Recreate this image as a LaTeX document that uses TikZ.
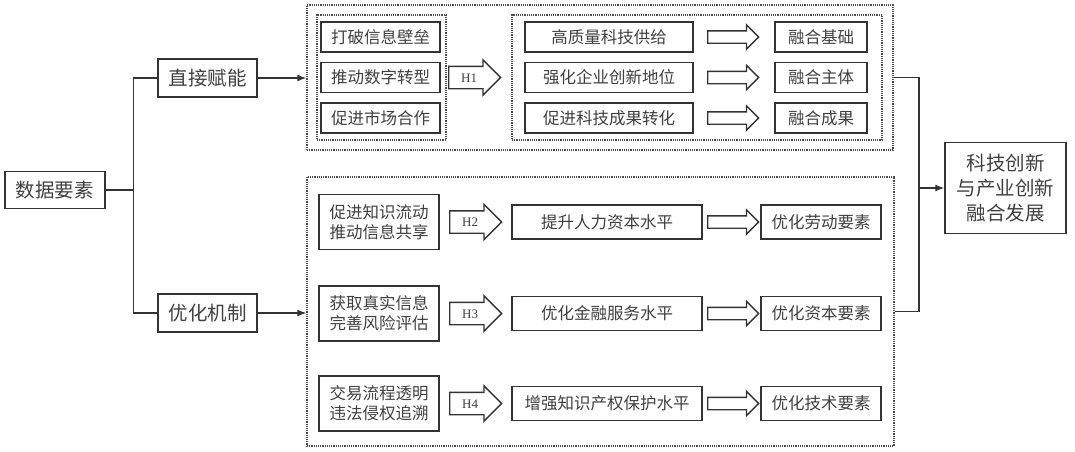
\documentclass[tikz,border=0pt]{standalone}
\usepackage{fontspec}
\setmainfont{Noto Sans CJK SC}
\newfontfamily\hfont{Liberation Serif}
\usetikzlibrary{arrows.meta,shapes.arrows,positioning}

\tikzset{
  box/.style={draw=black!80, line width=1.5pt, text=black!75, inner sep=0pt, align=center},
  bigbox/.style={box, font=\fontsize{19.5}{25}\selectfont},
  smallbox/.style={box, font=\fontsize{16.5}{20}\selectfont},
  dotbox/.style={draw=black!70, line width=1.2pt, densely dotted, inner sep=0pt},
  harrow/.style={draw=black!80, line width=1.4pt, single arrow, single arrow head extend=6.5pt,
    minimum width=34pt, minimum height=52pt, inner xsep=0pt, inner ysep=6pt,
    text height=9pt, text depth=0pt, anchor=tail, text=black!75,
    font=\hfont\fontsize{13}{13}\selectfont},
  farrow/.style={draw=black!80, line width=1.4pt, single arrow, single arrow head extend=6pt,
    minimum width=23pt, minimum height=51pt, inner xsep=0pt, inner ysep=5.5pt,
    text height=0pt, text depth=0pt, anchor=tail},
  conn/.style={draw=black!80, line width=1.3pt},
}

\begin{document}
\begin{tikzpicture}[x=1pt,y=-1pt]
            \useasboundingbox (0,0) rectangle (1075,451);
            % left part
            \node[bigbox, minimum width=100pt, minimum height=37pt] (data) at (55,190) {数据要素};
            \node[bigbox, minimum width=99pt, minimum height=38pt] (direct) at (207.5,78) {直接赋能};
            \node[bigbox, minimum width=99pt, minimum height=38pt] (optim) at (207.5,313) {优化机制};
            % dotted frames
            \node[dotbox, minimum width=586pt, minimum height=145pt] (topframe) at (600,77.5) {};
            \node[dotbox, minimum width=129pt, minimum height=125pt] (topleft) at (381.5,77.5) {};
            \node[dotbox, minimum width=370pt, minimum height=125pt] (topright) at (697,77.5) {};
            \node[dotbox, minimum width=587pt, minimum height=269pt] (botframe) at (600.5,311.5) {};
            % top rows
            \foreach \y/\a/\b/\c [count=\i] in {37/打破信息壁垒/高质量科技供给/融合基础,
                77.5/推动数字转型/强化企业创新地位/融合主体,
                118/促进市场合作/促进科技成果转化/融合成果} {
                \node[smallbox, minimum width=119pt, minimum height=30pt] (way\i) at (380.5,\y) {\a};
                \node[smallbox, minimum width=168pt, minimum height=30pt] (path\i) at (609,\y) {\b};
                \node[farrow] (tfa\i) at (707,\y) {};
                \node[smallbox, minimum width=92pt, minimum height=30pt] (fuse\i) at (821,\y) {\c};
            }
            \node[harrow] (h1) at (448,77.5) {H1};
            % bottom rows
            \foreach \y/\a/\h/\b/\c [count=\i] in {222/{促进知识流动\\推动信息共享}/H2/提升人力资本水平/优化劳动要素,
                313.5/{获取真实信息\\完善风险评估}/H3/优化金融服务水平/优化资本要素,
                403.5/{交易流程透明\\违法侵权追溯}/H4/增强知识产权保护水平/优化技术要素} {
                \node[smallbox, minimum width=120pt, minimum height=55pt] (mech\i) at (379,\y) {\a};
                \node[harrow] (hb\i) at (449,\y) {\h};
                \node[smallbox, minimum width=190pt, minimum height=34pt] (level\i) at (607,\y) {\b};
                \node[farrow] (bfa\i) at (707,\y) {};
                \node[smallbox, minimum width=120pt, minimum height=34pt] (factor\i) at (821,\y) {\c};
            }
            % result
            \node[bigbox, minimum width=121pt, minimum height=91pt] (goal) at (1005.5,188) {科技创新\\与产业创新\\融合发展};
            % connectors
            \draw[conn] (data.east) -- ++(28,0) |- (direct.west);
            \draw[conn] (data.east) -- ++(28,0) |- (optim.west);
            \draw[conn,-{Latex[length=9pt,width=7pt]}] (direct.east) -- (direct.east -| topframe.west);
            \draw[conn,-{Latex[length=9pt,width=7pt]}] (optim.east) -- (optim.east -| botframe.west);
            \coordinate (join) at (919,188);
            \draw[conn] (topframe.east) -| (join) |- (botframe.east);
            \draw[conn,-{Latex[length=9pt,width=7pt]}] (join) -- (goal.west);
\end{tikzpicture}
\end{document}
